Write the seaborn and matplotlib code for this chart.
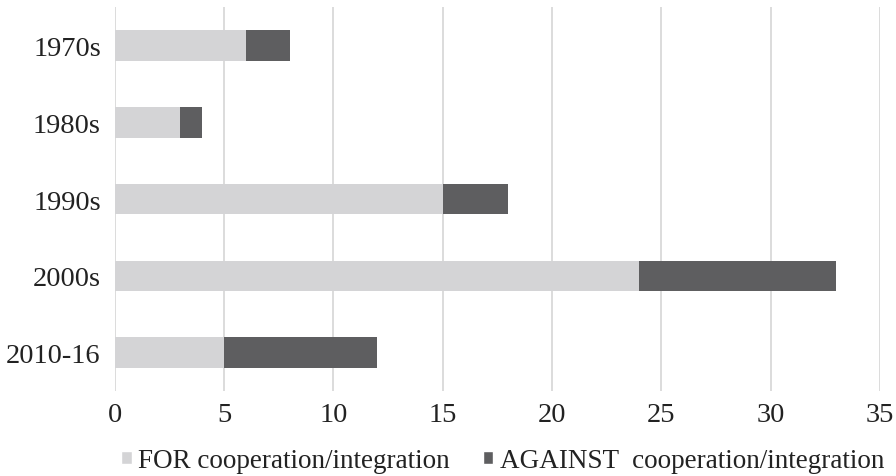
import matplotlib
matplotlib.use("Agg")
import matplotlib.pyplot as plt
import seaborn as sns
import pandas as pd
from matplotlib.patches import Patch

decades = ["1970s", "1980s", "1990s", "2000s", "2010-16"]
for_vals = [6, 3, 15, 24, 5]
against_vals = [2, 1, 3, 9, 7]
x_ticks = [0, 5, 10, 15, 20, 25, 30, 35]
label_for = "FOR cooperation/integration"
label_against = "AGAINST  cooperation/integration"

light = "#d4d4d6"
dark = "#5e5e60"

sns.set_theme(style="white")
plt.rcParams["font.family"] = ["Liberation Serif", "DejaVu Serif"]

df = pd.DataFrame({"decade": decades, "for": for_vals, "against": against_vals})
df["total"] = df["for"] + df["against"]

fig = plt.figure(figsize=(8.96, 4.77), dpi=100)
ax = fig.add_axes([0.128, 0.178, 0.854, 0.805])

sns.barplot(data=df, y="decade", x="total", order=decades, color=dark,
            width=0.4, orient="h", ax=ax, saturation=1, linewidth=0)
sns.barplot(data=df, y="decade", x="for", order=decades, color=light,
            width=0.4, orient="h", ax=ax, saturation=1, linewidth=0)

ax.set_xlim(0, 35)
ax.set_ylim(4.5, -0.5)
ax.set_xticks(x_ticks)
ax.set_xticklabels([str(t) for t in x_ticks])
ax.set_xlabel("")
ax.set_ylabel("")
ax.tick_params(axis="both", length=0, labelsize=20.5, colors="#222222")
ax.tick_params(axis="x", pad=8)
ax.tick_params(axis="y", pad=10)
for s in ax.spines.values():
    s.set_visible(False)
ax.xaxis.grid(True, color="#d9d9d9", linewidth=1.3)
ax.set_axisbelow(True)

handles = [Patch(facecolor=light, label=label_for), Patch(facecolor=dark, label=label_against)]
fig.legend(handles=handles, loc="lower center", bbox_to_anchor=(0.561, -0.045), ncol=2,
           frameon=False, fontsize=19.5, handlelength=0.4, handleheight=0.4,
           handletextpad=0.25, columnspacing=1.2, labelcolor="#222222")

fig.savefig("out.png", dpi=100)
